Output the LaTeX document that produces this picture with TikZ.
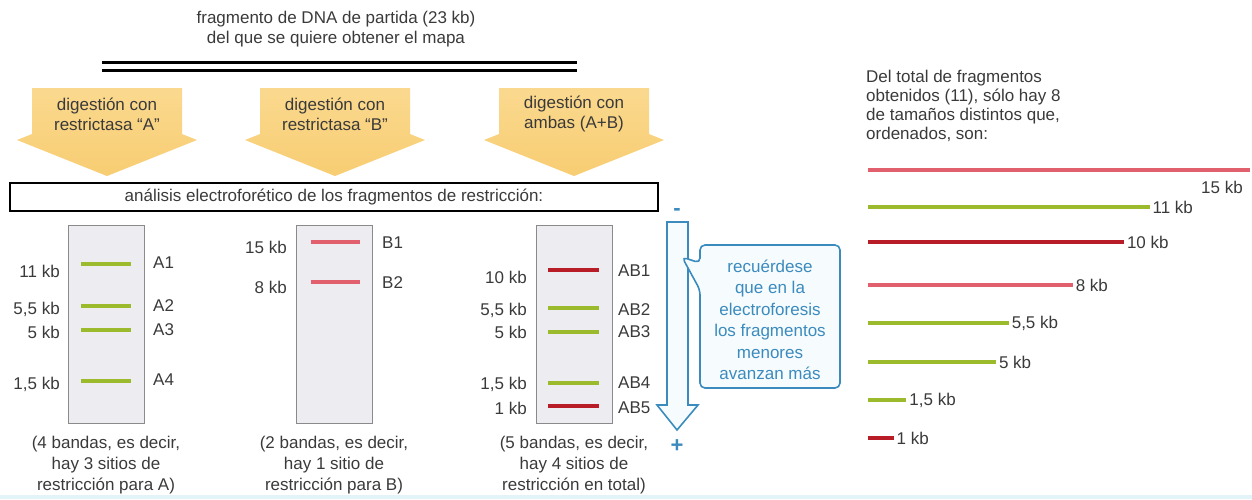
\documentclass[tikz,border=0pt]{standalone}
\usepackage{fontspec}
\setmainfont{Liberation Sans}
\usepackage{tikz}
\usetikzlibrary{positioning}
\definecolor{ink}{HTML}{3A3A3A}
\definecolor{digestfill}{HTML}{F8CD72}
\definecolor{digestpale}{HTML}{FAD98F}
\definecolor{greenband}{HTML}{9BBB2D}
\definecolor{pinkband}{HTML}{E25F6E}
\definecolor{redband}{HTML}{B81C27}
\definecolor{lanefill}{HTML}{EDEDF1}
\definecolor{laneline}{HTML}{8A8A8A}
\definecolor{note}{HTML}{3B8BBE}
\definecolor{notepale}{HTML}{F6FBFD}
\definecolor{edge}{HTML}{E3F4F8}

\begin{document}
\begin{tikzpicture}[
  x=1pt,
  y=-1pt,
  txt/.style={font=\fontsize{17}{20}\selectfont,text=ink,inner sep=0pt},
  caption/.style={txt,align=center,font=\fontsize{17}{21}\selectfont},
  dna/.style={line width=3pt,draw=black},
  digest/.style={top color=digestpale,bottom color=digestfill},
  gelbox/.style={
    txt,draw=black,line width=1.6pt,minimum width=648pt,minimum height=28pt
  },
  lane/.style={
    draw=laneline,fill=lanefill,line width=1pt,minimum width=76pt,
    minimum height=198pt,inner sep=0pt
  },
  band/.style={line width=4pt},
  kbleft/.style={txt,anchor=east},
  kbright/.style={txt,anchor=west},
  migrate/.style={draw=note,line width=1.6pt,fill=notepale,line join=miter},
  pole/.style={txt,text=note,font=\fontsize{22}{22}\bfseries},
  callout/.style={draw=note,line width=1.6pt,fill=notepale,rounded corners=5pt},
  notetxt/.style={txt,text=note,align=center,font=\fontsize{17}{21.5}\selectfont},
  bar/.style={line width=4pt}
]
  \useasboundingbox (0,0) rectangle (1252,499);
  \fill[edge] (0,495) rectangle (1252,499);

  % starting fragment
  \node[txt,align=center] (title) at (336,29)
    {fragmento de DNA de partida (23 kb)\\del que se quiere obtener el mapa};
  \draw[dna] (102,62) -- (577,62);
  \draw[dna] (102,70) -- (577,70);

  % the three digestions
  \begin{scope}[shift={(107,0)}]
    \path[digest] (-75,88) -- (75,88) -- (75,134) -- (90,140) -- (0,176)
      -- (-90,140) -- (-75,134) -- cycle;
    \node[txt,align=center] (dig-a) at (0,114) {digestión con\\restrictasa “A”};
  \end{scope}
  \begin{scope}[shift={(335,0)}]
    \path[digest] (-75,88) -- (75,88) -- (75,134) -- (90,140) -- (0,176)
      -- (-90,140) -- (-75,134) -- cycle;
    \node[txt,align=center] (dig-b) at (0,114) {digestión con\\restrictasa “B”};
  \end{scope}
  \begin{scope}[shift={(574,0)}]
    \path[digest] (-75,88) -- (75,88) -- (75,134) -- (90,140) -- (0,176)
      -- (-90,140) -- (-75,134) -- cycle;
    \node[txt,align=center] (dig-ab) at (0,114) {digestión con\\ambas (A+B)};
  \end{scope}

  \node[gelbox] (analysis) at (334,197)
    {análisis electroforético de los fragmentos de restricción:};

  % lane A
  \begin{scope}[shift={(68,0)}]
    \node[lane] (lane-a) at (38,324) {};
    \draw[band,greenband] (13,264) -- (63,264);
    \draw[band,greenband] (13,306) -- (63,306);
    \draw[band,greenband] (13,330) -- (63,330);
    \draw[band,greenband] (13,381) -- (63,381);
    \node[kbleft] (a1-kb) at (-8,271) {11 kb};
    \node[kbleft] (a2-kb) at (-8,309) {5,5 kb};
    \node[kbleft] (a3-kb) at (-8,332) {5 kb};
    \node[kbleft] (a4-kb) at (-8,384) {1,5 kb};
    \node[kbright] (a1) at (85,263) {A1};
    \node[kbright] (a2) at (85,306) {A2};
    \node[kbright] (a3) at (85,330) {A3};
    \node[kbright] (a4) at (85,380) {A4};
    \node[caption,below=12pt of lane-a] (cap-a)
      {(4 bandas, es decir,\\hay 3 sitios de\\restricción para A)};
  \end{scope}

  % lane B
  \begin{scope}[shift={(296,0)}]
    \node[lane] (lane-b) at (38,324) {};
    \draw[band,pinkband] (15,242) -- (64,242);
    \draw[band,pinkband] (15,282) -- (64,282);
    \node[kbleft] (b1-kb) at (-9,247) {15 kb};
    \node[kbleft] (b2-kb) at (-9,287) {8 kb};
    \node[kbright] (b1) at (86,243) {B1};
    \node[kbright] (b2) at (86,283) {B2};
    \node[caption,below=12pt of lane-b] (cap-b)
      {(2 bandas, es decir,\\hay 1 sitio de\\restricción para B)};
  \end{scope}

  % lane A+B
  \begin{scope}[shift={(536,0)}]
    \node[lane] (lane-ab) at (38,324) {};
    \draw[band,redband] (12,270) -- (63,270);
    \draw[band,greenband] (12,308) -- (63,308);
    \draw[band,greenband] (12,332) -- (63,332);
    \draw[band,greenband] (12,383) -- (63,383);
    \draw[band,redband] (12,406) -- (63,406);
    \node[kbleft] (ab1-kb) at (-9,277) {10 kb};
    \node[kbleft] (ab2-kb) at (-9,310) {5,5 kb};
    \node[kbleft] (ab3-kb) at (-9,332) {5 kb};
    \node[kbleft] (ab4-kb) at (-9,384) {1,5 kb};
    \node[kbleft] (ab5-kb) at (-9,408) {1 kb};
    \node[kbright] (ab1) at (82,271) {AB1};
    \node[kbright] (ab2) at (82,310) {AB2};
    \node[kbright] (ab3) at (82,332) {AB3};
    \node[kbright] (ab4) at (82,383) {AB4};
    \node[kbright] (ab5) at (82,408) {AB5};
    \node[caption,below=12pt of lane-ab] (cap-ab)
      {(5 bandas, es decir,\\hay 4 sitios de\\restricción en total)};
  \end{scope}

  % direction of migration
  \path[migrate] (667,222) -- (688,222) -- (688,405) -- (698,405) -- (677,430)
    -- (657,405) -- (667,405) -- cycle;
  \node[pole] (minus) at (677,212) {-};
  \node[pole] (plus) at (677,446) {+};
  \path[callout] (700,263) -- (700,245) -- (840,245) -- (840,388) -- (700,388)
    -- (700,290) -- (682,257) -- cycle;
  \node[notetxt] (reminder) at (770,320)
    {recuérdese\\que en la\\electroforesis\\los fragmentos\\menores\\avanzan más};

  % sorted fragment sizes
  \node[txt,align=left,anchor=north west,font=\fontsize{17}{19}\selectfont]
    (total) at (866,70)
    {Del total de fragmentos\\obtenidos (11), sólo hay 8\\de tamaños distintos que,\\ordenados, son:};
  \draw[bar,pinkband] (868,170) -- (1250,170);
  \node[txt] (kb-15) at (1222,187) {15 kb};
  \foreach \kb/\lbl/\col/\yy in {11/11/greenband/207,10/10/redband/242,
      8/8/pinkband/285,5.5/{5,5}/greenband/323,5/5/greenband/362,
      1.5/{1,5}/greenband/400,1/1/redband/438}
    \draw[bar,\col] (868,\yy) -- ++(\kb*25.6,0)
      node[txt,anchor=west,inner xsep=1pt] (kb-\yy) {\lbl\ kb};
\end{tikzpicture}
\end{document}
